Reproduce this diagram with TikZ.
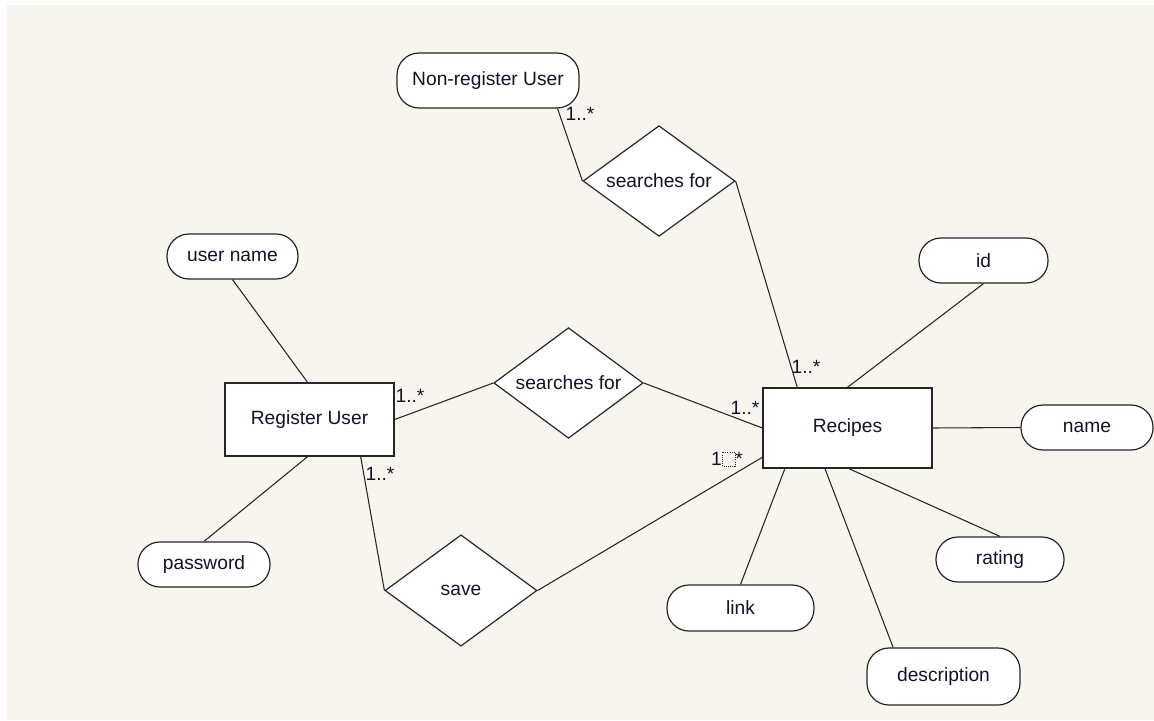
\documentclass[tikz,border=0pt]{standalone}
\usepackage{fontspec}
\setmainfont{Liberation Sans}
\usetikzlibrary{shapes.geometric}
\definecolor{paper}{RGB}{248,245,238}
\definecolor{ink}{RGB}{18,18,40}
\definecolor{edge}{RGB}{38,38,38}

\begin{document}
\begin{tikzpicture}[x=0.75pt,y=-0.75pt,
  every node/.style={font=\fontsize{14.4}{17}\selectfont, text=ink},
  entity/.style={draw=edge, line width=1pt, fill=white, inner sep=0pt},
  attr/.style={draw=edge, line width=0.9pt, fill=white, rounded corners=16.5pt, inner sep=0pt},
  rel/.style={diamond, aspect=1.4, draw=edge, line width=0.9pt, fill=white, inner sep=0pt},
  conn/.style={draw=edge, line width=0.8pt},
  mult/.style={inner sep=0pt}]

% canvas
\fill[white] (0,0) rectangle (1154,721);
\fill[paper] (7,5) rectangle (1154,720);
\useasboundingbox (0,0) rectangle (1154,721);

% entities
\node[entity, minimum width=126.75pt, minimum height=54.75pt] (ru) at (309.5,419.5) {Register User};
\node[entity, minimum width=126.75pt, minimum height=60pt] (rec) at (847.5,428) {Recipes};

% attributes and actors
\node[attr, minimum width=136.5pt, minimum height=41.25pt] (nru) at (488,80.5) {Non-register User};
\node[attr, minimum width=98.25pt, minimum height=33.75pt] (uname) at (232.5,256.5) {user name};
\node[attr, minimum width=99pt, minimum height=33.75pt] (pwd) at (204,564.5) {password};
\node[attr, minimum width=96.75pt, minimum height=33.75pt] (id) at (983.5,260.5) {id};
\node[attr, minimum width=99pt, minimum height=33.75pt] (name) at (1087,427.5) {name};
\node[attr, minimum width=96pt, minimum height=33.75pt] (rating) at (1000,559.5) {rating};
\node[attr, minimum width=110.25pt, minimum height=34.5pt] (link) at (740.5,608) {link};
\node[attr, minimum width=114.75pt, minimum height=42.75pt] (desc) at (943.5,676.5) {description};

% relationships
\node[rel, minimum width=114pt, minimum height=83pt] (sf1) at (659,181) {searches for};
\node[rel, minimum width=112pt, minimum height=83pt] (sf2) at (568.5,383) {searches for};
\node[rel, minimum width=114pt, minimum height=83.5pt] (save) at (461,590.5) {save};

% connectors
\draw[conn] (nru.-22.9) -- (sf1.west);
\draw[conn] (sf1.east) -- (rec.141.6);
\draw[conn] (ru.east) -- (sf2.west);
\draw[conn] (sf2.east) -- (rec.west);
\draw[conn] (ru.-36.4) -- (save.west);
\draw[conn] (save.east) -- (rec.-161.1);
\draw[conn] (uname.south) -- (ru.93.9);
\draw[conn] (ru.-93.9) -- (pwd.north);
\draw[conn] (rec.north) -- (id.south);
\draw[conn] (rec.east) -- (name.west);
\draw[conn] (rec.-88.2) -- (rating.north);
\draw[conn] (rec.-119.4) -- (desc.150.6);
\draw[conn] (rec.-147) -- (link.north);

% multiplicities
\node[mult] (m1) at (580,114) {1..*};
\node[mult] (m2) at (806,367) {1..*};
\node[mult] (m3) at (410,396) {1..*};
\node[mult] (m4) at (745,408) {1..*};
\node[mult] (m5) at (380,474) {1..*};
\node[mult] (m6) at (727,459) {1\tikz[baseline=0pt]\draw[edge, densely dotted, line width=0.6pt] (0.5pt,-0.5pt) rectangle (10pt,10pt);*};
\end{tikzpicture}
\end{document}
